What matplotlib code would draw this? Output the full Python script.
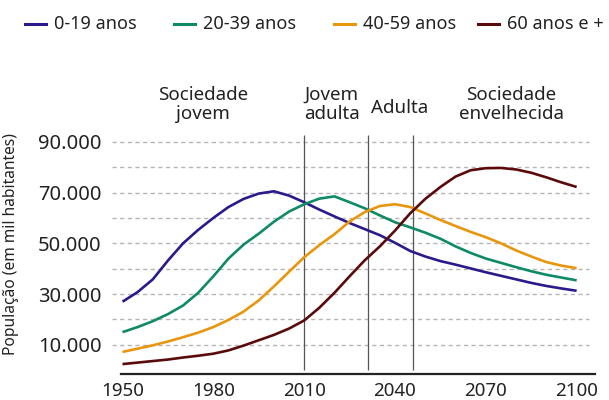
import matplotlib.pyplot as plt
from matplotlib.lines import Line2D
from matplotlib.ticker import FuncFormatter

plt.rcParams['font.family'] = ['Noto Sans', 'DejaVu Sans']

years = list(range(1950, 2101, 5))

# population in thousands
idade_0_19 = [27.0, 30.8, 35.8, 43.2, 50.0, 55.3, 60.0, 64.3, 67.5, 69.6, 70.5,
              68.8, 66.2, 63.3, 60.6, 58.0, 55.6, 53.2, 50.2, 47.0, 44.8, 43.0,
              41.6, 40.1, 38.6, 37.2, 35.8, 34.4, 33.2, 32.2, 31.3]
idade_20_39 = [15.0, 17.0, 19.3, 22.1, 25.5, 30.5, 37.0, 44.0, 49.5, 53.8, 58.5,
               62.5, 65.4, 67.6, 68.5, 66.2, 63.8, 61.0, 58.3, 56.3, 54.2, 51.8,
               48.8, 46.2, 44.0, 42.3, 40.6, 39.0, 37.6, 36.5, 35.4]
idade_40_59 = [7.2, 8.5, 9.8, 11.3, 13.0, 14.8, 17.0, 19.8, 23.1, 27.5, 33.0,
               38.8, 44.5, 49.3, 53.6, 58.6, 62.3, 64.7, 65.4, 64.3, 61.8, 59.2,
               56.8, 54.5, 52.4, 50.0, 47.2, 44.8, 42.6, 41.2, 40.2]
idade_60_mais = [2.4, 3.0, 3.6, 4.2, 5.0, 5.7, 6.5, 7.8, 9.7, 11.8, 13.9,
                 16.4, 19.6, 24.6, 30.5, 37.0, 43.3, 48.8, 55.0, 61.8, 67.5, 72.2,
                 76.3, 78.8, 79.6, 79.7, 79.1, 77.8, 76.0, 74.0, 72.2]

series = [
    ('0-19 anos', idade_0_19, '#2b1a8c'),
    ('20-39 anos', idade_20_39, '#0f8a66'),
    ('40-59 anos', idade_40_59, '#e8960e'),
    ('60 anos e +', idade_60_mais, '#5a0a0a'),
]

fases = ['Sociedade\njovem', 'Jovem\nadulta', 'Adulta', 'Sociedade\nenvelhecida']
fases_x = [1976.6, 2019.1, 2041.6, 2078.5]
limites = [2010, 2031, 2046]

W, H = 609, 400
fig = plt.figure(figsize=(W / 100, H / 100), dpi=100)
ax = fig.add_axes([0.1987, 0.065, 0.778, 0.5995])

for y in range(10000, 90001, 10000):
    ax.hlines(y, 1946.5, 2104, colors='#b5b5b5', linestyles=(0, (3, 2.5)),
              linewidth=1, clip_on=False, zorder=1)

for x in limites:
    ax.vlines(x, 0, 92700, colors='#555555', linewidth=0.9, zorder=2)

for label, vals, color in series:
    ax.plot(years, [v * 1000 for v in vals], color=color, linewidth=1.9,
            label=label, zorder=3, solid_capstyle='butt', solid_joinstyle='round')

ax.set_xlim(1949.5, 2106)
ax.set_ylim(-1500, 93000)
ax.set_xticks([1950, 1980, 2010, 2040, 2070, 2100])
ax.set_yticks([10000, 30000, 50000, 70000, 90000])
ax.yaxis.set_major_formatter(FuncFormatter(lambda v, p: f'{int(v):,}'.replace(',', '.')))
ax.tick_params(axis='y', length=0, pad=14, labelsize=14.5, colors='#222222')
ax.tick_params(axis='x', length=0, pad=6, labelsize=13.5, colors='#222222')
for s in ['left', 'right', 'top']:
    ax.spines[s].set_visible(False)
ax.spines['bottom'].set_linewidth(1.6)
ax.spines['bottom'].set_color('#222222')

ax.set_ylabel('População (em mil habitantes)', fontsize=11.2, color='#222222')
ax.yaxis.set_label_coords(-0.215, 0.54)

for txt, x in zip(fases, fases_x):
    yy = 103300 if '\n' not in txt else 104700
    ax.text(x, yy, txt, ha='center', va='center', fontsize=13.5,
            color='#222222', linespacing=1.05, clip_on=False)

# legend across the top, one entry per series
leg_x = [25, 174, 334, 478]
leg_y = 1 - 24 / H
for (label, vals, color), px in zip(series, leg_x):
    fig.add_artist(Line2D([px / W, (px + 21) / W], [leg_y, leg_y],
                          color=color, linewidth=2.2))
    fig.text((px + 29) / W, leg_y, label, ha='left', va='center',
             fontsize=13, color='#222222')

fig.savefig('out.png', dpi=100)
